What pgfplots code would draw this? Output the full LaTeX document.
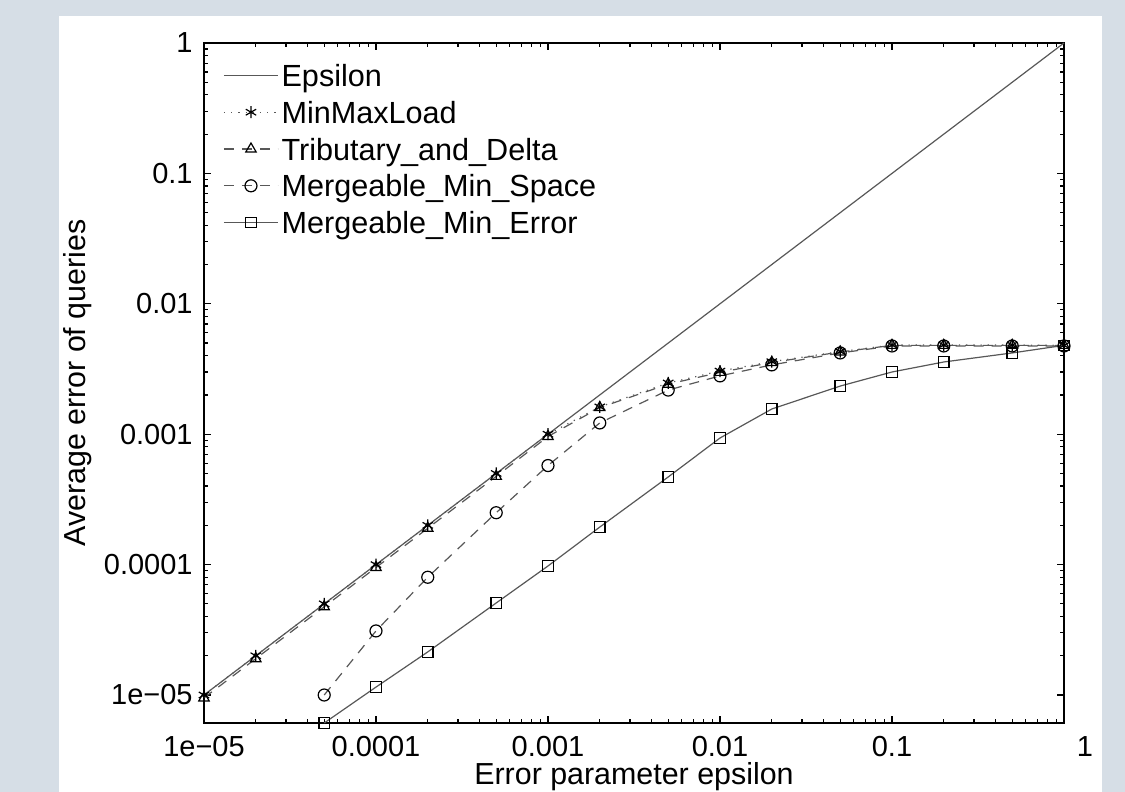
\documentclass[border=0pt]{standalone}
\usepackage{fontspec}
\setmainfont{Liberation Sans}
\usepackage{pgfplots}
\pgfplotsset{compat=1.18}
\definecolor{outerbg}{RGB}{214,222,230}
\definecolor{linegray}{RGB}{88,88,88}

\begin{document}
\begin{tikzpicture}[x=1pt,y=1pt]
\fill[outerbg] (0,0) rectangle (562.5,396);
\fill[white] (29.5,0) rectangle (551,388);
\path[use as bounding box] (0,0) rectangle (562.5,396);
\begin{axis}[
  at={(102pt,34.5pt)}, anchor=south west,
  scale only axis, width=430pt, height=340pt,
  xmode=log, ymode=log,
  xmin=1e-5, xmax=1, ymin=6.1e-6, ymax=1,
  clip=false,
  log identify minor tick positions=true,
  xtick={1e-5,1e-4,1e-3,1e-2,1e-1,1},
  xticklabels={1e−05,0.0001,0.001,0.01,0.1,\hspace*{21pt}1},
  ytick={1e-5,1e-4,1e-3,1e-2,1e-1,1},
  yticklabels={1e−05,0.0001,0.001,0.01,0.1,1},
  tick align=inside,
  major tick length=3.5pt, minor tick length=2pt,
  axis line style={black, line width=0.8pt},
  tick style={black, line width=0.6pt},
  tick label style={font=\fontsize{14.5}{17}\selectfont},
  xticklabel style={anchor=base, inner sep=0pt, yshift=-16.8pt},
  yticklabel style={anchor=east, inner sep=0pt, xshift=-5.5pt},
  xlabel={Error parameter epsilon},
  ylabel={Average error of queries},
  every axis x label/.style={at={(axis description cs:0.5,0)}, anchor=center, yshift=-27pt,
    font=\fontsize{15.2}{18}\selectfont},
  every axis y label/.style={at={(axis description cs:0,0.5)}, xshift=-63pt, rotate=90, anchor=center,
    font=\fontsize{15.2}{18}\selectfont},
  legend style={at={(axis description cs:0,1)}, anchor=north west, xshift=9.5pt, yshift=-10pt,
    draw=none, fill=none, inner sep=0pt, row sep=6.4pt, column sep=1.5pt,
    font=\fontsize{15.3}{18}\selectfont,
    nodes={inner sep=0pt, text height=11.5pt, text depth=0.5pt}},
  legend cell align=left,
  legend image code/.code={\draw[mark repeat=2,mark phase=2,#1] plot coordinates {(0pt,0pt) (13.5pt,0pt) (27pt,0pt)};},
  every axis plot/.append style={line width=0.6pt},
]
\addplot[linegray, solid] coordinates {(1e-5,1e-5) (1,1)};
\addlegendentry{Epsilon}

\addplot[linegray, dash pattern=on 0.6pt off 3pt, mark=asterisk, mark size=3pt,
  mark options={solid, draw=black}] coordinates {
  (1e-5,1e-5) (2e-5,2e-5) (5e-5,5e-5) (1e-4,1e-4) (2e-4,2e-4) (5e-4,5e-4) (1e-3,1e-3)
  (2e-3,1.62e-3) (5e-3,2.47e-3) (1e-2,3.05e-3) (2e-2,3.6e-3) (5e-2,4.3e-3)
  (1e-1,4.83e-3) (2e-1,4.83e-3) (5e-1,4.83e-3) (1,4.8e-3)};
\addlegendentry{MinMaxLoad}

\addplot[linegray, dash pattern=on 5pt off 4pt, mark=triangle, mark size=3pt,
  mark options={solid, draw=black}] coordinates {
  (1e-5,0.95e-5) (2e-5,1.9e-5) (5e-5,4.75e-5) (1e-4,0.95e-4) (2e-4,1.9e-4) (5e-4,4.75e-4) (1e-3,0.96e-3)
  (2e-3,1.6e-3) (5e-3,2.42e-3) (1e-2,2.98e-3) (2e-2,3.55e-3) (5e-2,4.27e-3)
  (1e-1,4.8e-3) (2e-1,4.8e-3) (5e-1,4.8e-3) (1,4.8e-3)};
\addlegendentry{Tributary\_and\_Delta}

\addplot[linegray, dash pattern=on 5pt off 4pt, mark=o, mark size=3pt,
  mark options={solid, draw=black}] coordinates {
  (5e-5,1.0e-5) (1e-4,3.1e-5) (2e-4,8.0e-5) (5e-4,2.5e-4) (1e-3,5.75e-4)
  (2e-3,1.22e-3) (5e-3,2.18e-3) (1e-2,2.8e-3) (2e-2,3.4e-3) (5e-2,4.2e-3)
  (1e-1,4.75e-3) (2e-1,4.75e-3) (5e-1,4.75e-3) (1,4.75e-3)};
\addlegendentry{Mergeable\_Min\_Space}

\addplot[linegray, solid, mark=square, mark size=2.6pt,
  mark options={solid, draw=black}] coordinates {
  (5e-5,6.1e-6) (1e-4,1.15e-5) (2e-4,2.14e-5) (5e-4,5.08e-5) (1e-3,9.76e-5)
  (2e-3,1.94e-4) (5e-3,4.7e-4) (1e-2,9.35e-4) (2e-2,1.56e-3) (5e-2,2.34e-3)
  (1e-1,3.0e-3) (2e-1,3.58e-3) (5e-1,4.2e-3) (1,4.8e-3)};
\addlegendentry{Mergeable\_Min\_Error}
\end{axis}
\end{tikzpicture}
\end{document}
